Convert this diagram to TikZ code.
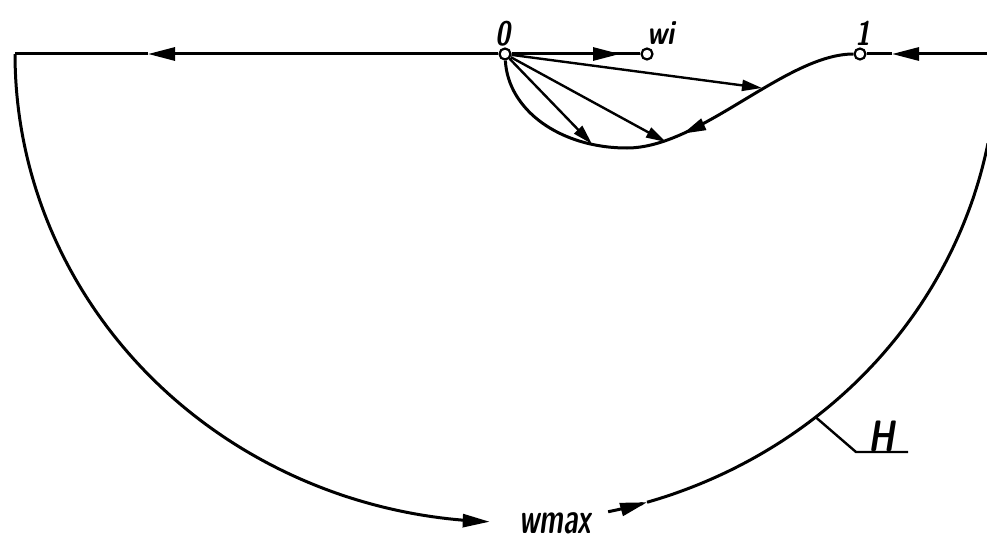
\documentclass[tikz,border=0pt]{standalone}
\usetikzlibrary{arrows.meta,decorations.markings}
\begin{document}
\begin{tikzpicture}[x=1pt,y=-1pt,
  ln/.style={line width=3pt},
  thn/.style={line width=2.4pt},
  big/.style={-{Triangle[length=27pt,width=13pt]}},
  sml/.style={-{Triangle[length=20pt,width=11pt]}},
  pt/.style={circle,draw,line width=2.2pt,minimum size=11pt,inner sep=0pt},
  lab/.style={inner sep=0pt,font=\sffamily\bfseries\itshape\fontsize{34}{34}\selectfont}]
\useasboundingbox (0,0) rectangle (987,543);
% points on the axis
\node[pt] (o0) at (505,54) {};
\node[pt] (wi) at (647,54) {};
\node[pt] (one) at (860,54) {};
\coordinate (cL) at (15,54);
\coordinate (aL) at (148,54);
\coordinate (rE) at (987,54);
\coordinate (aR) at (892,54);
\coordinate (aW) at (620,54);
\coordinate (p1) at (762,88);
\coordinate (p2) at (666,142);
\coordinate (p3) at (592,144);
% top line
\draw[ln,big] (o0) -- (aL);
\draw[ln] (aL) -- (cL);
\draw[ln,big] (rE) -- (aR);
\draw[ln] (aR) -- (one);
\draw[ln] (o0) -- (wi);
\draw[ln,big] (o0) -- (aW);
% big arc
\draw[ln,big] plot[domain=180:91.9,samples=90] ({506+491*cos(\x)},{54+468*sin(\x)});
\draw[ln,big] plot[domain=78:73.3,samples=10] ({506+491*cos(\x)},{54+468*sin(\x)});
\draw[ln] plot[domain=73.3:11,samples=80] ({506+491*cos(\x)},{54+468*sin(\x)});
% inner curve
\draw[ln,postaction={decorate},decoration={markings,
   mark=at position 0.46 with {\arrow{Triangle[length=23pt,width=12pt]}}}]
  (one) .. controls (786,54) and (700,148) .. (627,148)
        .. controls (560,148) and (508,110) .. (o0);
% rays from 0
\draw[thn,sml] (o0) -- (p1);
\draw[thn,sml] (o0) -- (p2);
\draw[thn,sml] (o0) -- (p3);
% leader for H
\coordinate (hP) at ({506+491*cos(50.9)},{54+468*sin(50.9)});
\coordinate (hK) at (856,452);
\coordinate (hE) at (908,452);
\draw[thn] (hP) -- (hK) -- (hE);
% labels
\node[lab] (l0) at (503,34) {\scalebox{0.8}[1]{0}};
\node[lab] (l1) at (863,33) {\scalebox{0.8}[1]{1}};
\node[lab] (lw) at (661,33) {\scalebox{0.8}[1]{wi}};
\node[lab,font=\sffamily\bfseries\itshape\fontsize{44}{44}\selectfont] (lm) at (555,523) {\scalebox{0.62}[1]{wmax}};
\node[lab,font=\sffamily\bfseries\itshape\fontsize{44}{44}\selectfont] (lH) at (882,436) {\scalebox{0.75}[1]{H}};
\end{tikzpicture}
\end{document}
